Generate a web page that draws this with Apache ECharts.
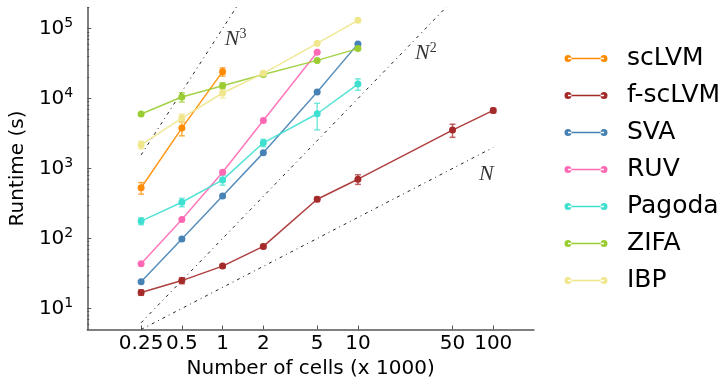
<!DOCTYPE html>
<html>
<head>
<meta charset="utf-8">
<script src="https://cdn.jsdelivr.net/npm/echarts@6/dist/echarts.min.js"></script>
<style>
    html, body { margin: 0; padding: 0; background: #fff; }
    #main { width: 727px; height: 385px; }
</style>
</head>
<body>
<div id="main"></div>
<script>
// number of cells (x 1000)
const cells = [0.25, 0.5, 1, 2, 5, 10, 50, 100];
const xTicks = [0.25, 0.5, 1, 2, 5, 10, 50, 100];
const yTicks = [10, 100, 1000, 10000, 100000];
const yMinorTicks = [6, 7, 8, 9, 20, 30, 40, 50, 60, 70, 80, 90,
    200, 300, 400, 500, 600, 700, 800, 900,
    2000, 3000, 4000, 5000, 6000, 7000, 8000, 9000,
    20000, 30000, 40000, 50000, 60000, 70000, 80000, 90000, 200000];

// runtime (s) and error (+/-)
const scLVM = [530, 3780, 24200];
const scLVMErr = [100, 850, 3300];
const fscLVM = [16.9, 25, 40.3, 77, 363, 703, 3540, 6760];
const fscLVMErr = [1.5, 2.5, 2, 5, 25, 110, 750, 500];
const SVA = [24, 98, 405, 1673, 12400, 60400];
const SVAErr = [0, 0, 0, 0, 0, 0];
const RUV = [43.4, 187, 885, 4860, 45800];
const RUVErr = [0, 0, 0, 0, 0];
const Pagoda = [177, 329, 687, 2330, 6060, 16100];
const PagodaErr = [20, 45, 110, 280, 2500, 3000];
const ZIFA = [6000, 10500, 15250, 22100, 35100, 51700];
const ZIFAErr = [0, 1600, 1500, 0, 0, 0];
const IBP = [2180, 5250, 12000, 22900, 61600, 131000];
const IBPErr = [270, 750, 1800, 1000, 0, 0];

// scaling guides N, N^2, N^3
const guideN3X = [0.25, 1.3];
const guideN3Y = [1562.5, 219700];
const guideN2X = [0.25, 50];
const guideN2Y = [6.25, 250000];
const guideNX = [0.25, 100];
const guideNY = [5, 2000];
const guideLabelX = [1.25, 31.8, 89];
const guideLabelY = [69500, 43900, 838];
const guideLabelText = ['{n|N}{s|3}', '{n|N}{s|2}', '{n|N}'];

const methods = [
    { name: 'scLVM', color: '#ff8c00', values: scLVM, errs: scLVMErr },
    { name: 'f-scLVM', color: '#a52a2a', values: fscLVM, errs: fscLVMErr },
    { name: 'SVA', color: '#4682b4', values: SVA, errs: SVAErr },
    { name: 'RUV', color: '#ff69b4', values: RUV, errs: RUVErr },
    { name: 'Pagoda', color: '#40e0d0', values: Pagoda, errs: PagodaErr },
    { name: 'ZIFA', color: '#9acd32', values: ZIFA, errs: ZIFAErr },
    { name: 'IBP', color: '#f0e68c', values: IBP, errs: IBPErr }
];

// legend icon: two dots joined by a line, padded on the right
const legendIcon = 'path://M0,3.5a3.5,3.5 0 1,0 7,0a3.5,3.5 0 1,0 -7,0Z' +
    'M36,3.5a3.5,3.5 0 1,0 7,0a3.5,3.5 0 1,0 -7,0Z' +
    'M3.5,2.7L39.5,2.7L39.5,4.3L3.5,4.3Z' +
    'M57.5,0L57.5,7L57.5,7Z';

const axisColor = '#555';
const font = 'DejaVu Sans';

const errorBars = (color) => (params, api) => {
    const x = api.value(0);
    const top = api.coord([x, api.value(2)]);
    const bot = api.coord([x, api.value(1)]);
    const cap = 3;
    const st = () => ({ stroke: color, lineWidth: 1.5, opacity: 0.7 });
    return {
        type: 'group',
        children: [
            { type: 'line', shape: { x1: top[0], y1: top[1], x2: bot[0], y2: bot[1] }, style: st() },
            { type: 'line', shape: { x1: top[0] - cap, y1: top[1], x2: top[0] + cap, y2: top[1] }, style: st() },
            { type: 'line', shape: { x1: bot[0] - cap, y1: bot[1], x2: bot[0] + cap, y2: bot[1] }, style: st() }
        ]
    };
};

const guideLine = (xs, ys) => ({
    type: 'line',
    data: xs.map((x, i) => [x, ys[i]]),
    showSymbol: false,
    symbol: 'none',
    silent: true,
    clip: true,
    lineStyle: { color: '#222', width: 1, type: [3, 4, 1, 4] },
    z: 1
});

const series = [
    guideLine(guideN3X, guideN3Y),
    guideLine(guideN2X, guideN2Y),
    guideLine(guideNX, guideNY),
    {
        type: 'scatter',
        silent: true,
        symbolSize: 0,
        data: guideLabelX.map((x, i) => [x, guideLabelY[i]]),
        label: {
            show: true,
            position: 'inside',
            formatter: (p) => guideLabelText[p.dataIndex],
            rich: {
                n: { fontFamily: 'Liberation Serif', fontStyle: 'italic', fontSize: 22, color: '#000' },
                s: { fontFamily: 'Liberation Serif', fontSize: 14, color: '#000', padding: [0, 0, 10, 0] }
            }
        }
    }
];

methods.forEach((m) => {
    series.push({
        name: m.name,
        type: 'line',
        data: m.values.map((v, i) => [cells[i], v]),
        symbol: 'circle',
        symbolSize: 7,
        showSymbol: true,
        itemStyle: { color: m.color },
        lineStyle: { color: m.color, width: 1.5, opacity: 0.9 },
        emphasis: { disabled: true },
        z: 3
    });
    const bars = [];
    m.errs.forEach((e, i) => {
        if (e > 0) bars.push([cells[i], m.values[i] - e, m.values[i] + e]);
    });
    if (bars.length) {
        series.push({
            name: m.name,
            type: 'custom',
            renderItem: errorBars(m.color),
            encode: { x: 0, y: [1, 2] },
            data: bars,
            z: 3
        });
    }
});

const chart = echarts.init(document.getElementById('main'));
chart.setOption({
    animation: false,
    backgroundColor: '#fff',
    grid: { left: 83, right: 193, top: 7.5, bottom: 55.5 },
    legend: {
        orient: 'vertical',
        left: 559.5,
        top: 41,
        itemWidth: 57.5,
        itemHeight: 7,
        itemGap: 12,
        selectedMode: false,
        textStyle: { fontSize: 25, fontFamily: font, color: '#000', lineHeight: 25 },
        data: methods.map((m) => ({ name: m.name, icon: legendIcon }))
    },
    xAxis: {
        type: 'log',
        logBase: 10,
        min: 0.1,
        max: 200,
        name: 'Number of cells (x 1000)',
        nameLocation: 'middle',
        nameGap: 27,
        nameTextStyle: { fontSize: 20, fontFamily: font, color: '#000' },
        axisLine: { lineStyle: { color: axisColor, width: 1.5 } },
        axisTick: { inside: true, length: 4, customValues: xTicks, lineStyle: { color: axisColor } },
        axisLabel: {
            customValues: xTicks,
            margin: 4,
            fontSize: 20,
            fontFamily: font,
            color: '#000',
            formatter: (v) => String(v)
        },
        splitLine: { show: false },
        minorTick: { show: false }
    },
    yAxis: [{
        type: 'log',
        logBase: 10,
        min: 5,
        max: 200000,
        name: 'Runtime (s)',
        nameLocation: 'middle',
        nameGap: 55,
        nameTextStyle: { fontSize: 20, fontFamily: font, color: '#000' },
        axisLine: { lineStyle: { color: axisColor, width: 1.5 } },
        axisTick: { inside: true, length: 4, customValues: yTicks, lineStyle: { color: axisColor } },
        axisLabel: {
            customValues: yTicks,
            margin: 14,
            fontSize: 20,
            fontFamily: font,
            color: '#000',
            formatter: (v) => '10{sup|' + Math.round(Math.log10(v)) + '}',
            rich: { sup: { fontSize: 14, fontFamily: font, color: '#000', padding: [0, 0, 10, 0] } }
        },
        splitLine: { show: false }
    }, {
        type: 'log',
        logBase: 10,
        min: 5,
        max: 200000,
        position: 'left',
        axisLine: { show: false },
        axisTick: { inside: true, length: 2, customValues: yMinorTicks, lineStyle: { color: axisColor } },
        axisLabel: { show: false },
        splitLine: { show: false }
    }],
    series: series
});
</script>
</body>
</html>
